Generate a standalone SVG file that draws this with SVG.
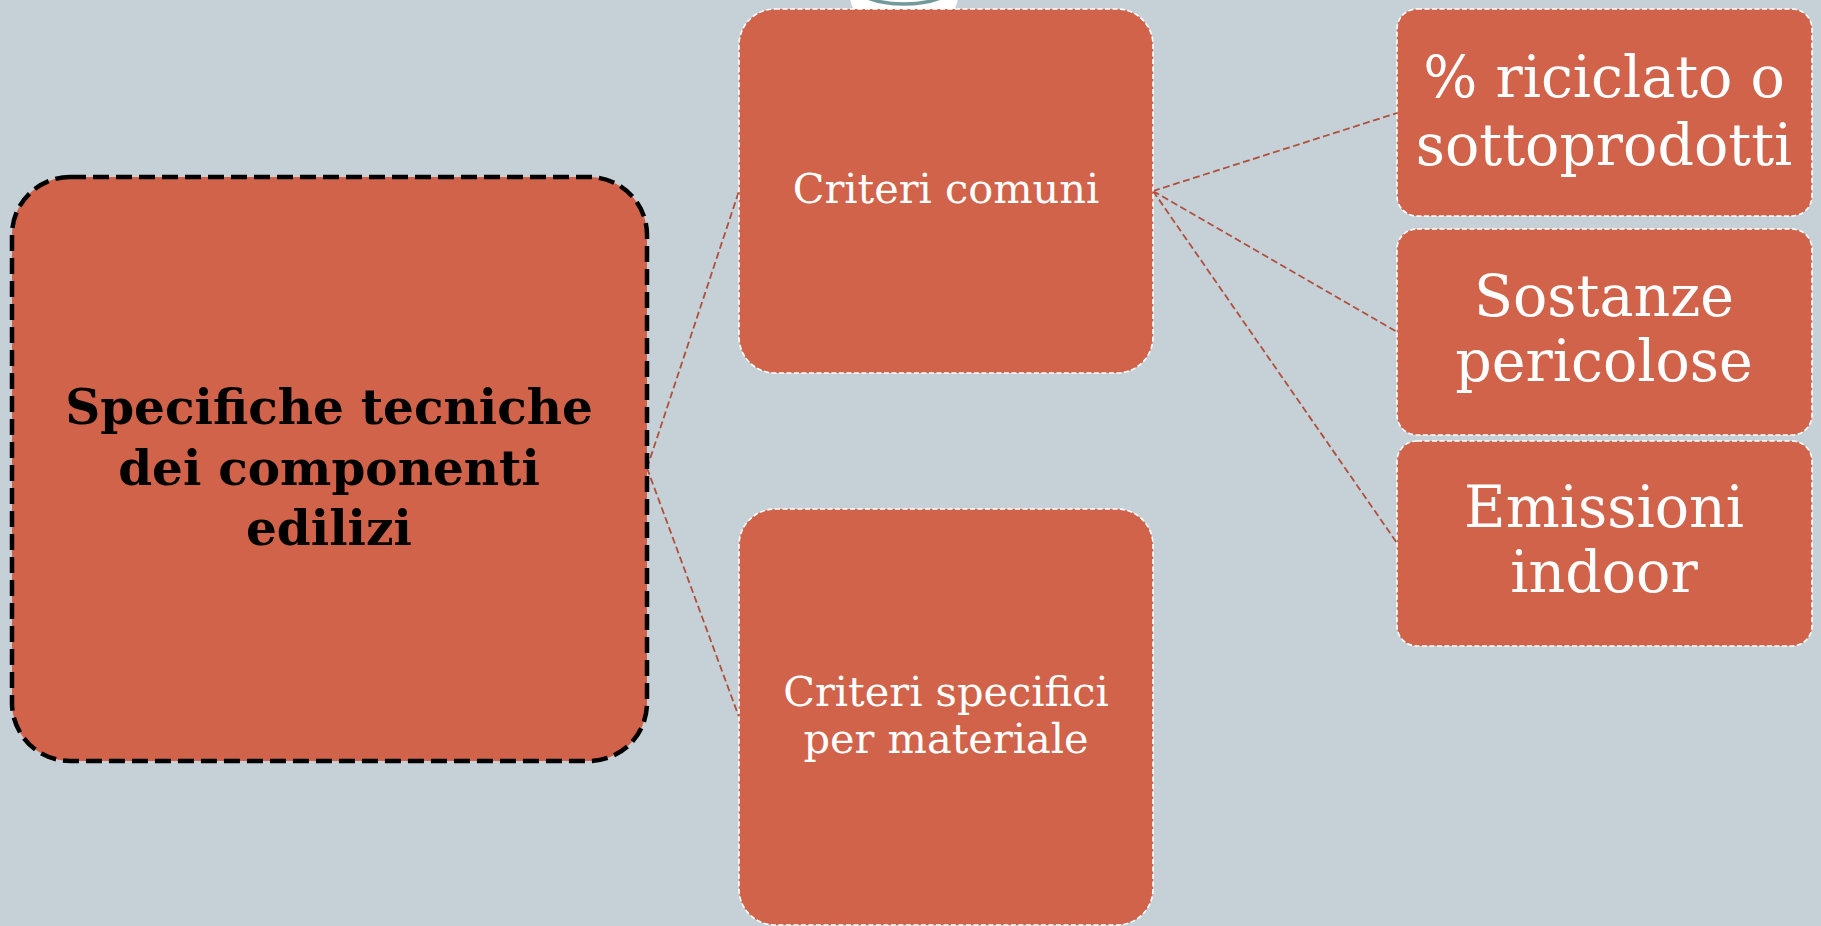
<svg xmlns="http://www.w3.org/2000/svg" width="1821" height="926" viewBox="0 0 1821 926">
<style>
.bg{fill:#c5d1d7}
.box{fill:#d1634a;stroke:#ffffff;stroke-width:1.6;stroke-dasharray:5 2.5}
.main{fill:#d1634a;stroke:#000000;stroke-width:4.5;stroke-dasharray:16 7}
.conn{fill:none;stroke:#b04f3c;stroke-width:1.8;stroke-dasharray:7 3.5}
.t{font-family:"DejaVu Serif","Liberation Serif",serif;text-anchor:middle;fill:#ffffff}
.tm{font-family:"DejaVu Serif","Liberation Serif",serif;text-anchor:middle;fill:#000000;font-weight:bold;font-size:48.5px}
.tc{font-size:41.5px}
.tr{font-size:57px}
</style>
<rect class="bg" x="0" y="0" width="1821" height="926"/>
<g id="decoration">
<ellipse cx="904" cy="-12" rx="55" ry="55" fill="#ffffff"/>
<ellipse cx="904" cy="-20" rx="55" ry="24" fill="none" stroke="#73999a" stroke-width="3.5"/>
</g>
<g id="connectors">
<line class="conn" x1="647" y1="468" x2="739" y2="191"/>
<line class="conn" x1="647" y1="468" x2="739" y2="717"/>
<line class="conn" x1="1153" y1="191" x2="1397" y2="113"/>
<line class="conn" x1="1153" y1="191" x2="1397" y2="332"/>
<line class="conn" x1="1153" y1="191" x2="1397" y2="543"/>
</g>
<g id="node-main">
<rect class="main" x="12" y="177" width="635" height="584" rx="58" ry="58"/>
<text class="tm" x="329" y="424">Specifiche tecniche</text>
<text class="tm" x="329" y="485">dei componenti</text>
<text class="tm" x="329" y="545">edilizi</text>
</g>
<g id="node-criteri-comuni">
<rect class="box" x="739" y="9" width="414" height="364" rx="36" ry="36"/>
<text class="t tc" x="946" y="203">Criteri comuni</text>
</g>
<g id="node-criteri-specifici">
<rect class="box" x="739" y="509" width="414" height="416" rx="36" ry="36"/>
<text class="t tc" x="946" y="706">Criteri specifici</text>
<text class="t tc" x="946" y="753">per materiale</text>
</g>
<g id="node-riciclato">
<rect class="box" x="1397" y="9" width="415" height="207" rx="20" ry="20"/>
<text class="t tr" x="1604" y="97">% riciclato o</text>
<text class="t tr" x="1604" y="165">sottoprodotti</text>
</g>
<g id="node-sostanze">
<rect class="box" x="1397" y="229" width="415" height="206" rx="20" ry="20"/>
<text class="t tr" x="1604" y="316">Sostanze</text>
<text class="t tr" x="1604" y="381">pericolose</text>
</g>
<g id="node-emissioni">
<rect class="box" x="1397" y="441" width="415" height="205" rx="20" ry="20"/>
<text class="t tr" x="1604" y="527">Emissioni</text>
<text class="t tr" x="1604" y="592">indoor</text>
</g>
</svg>
